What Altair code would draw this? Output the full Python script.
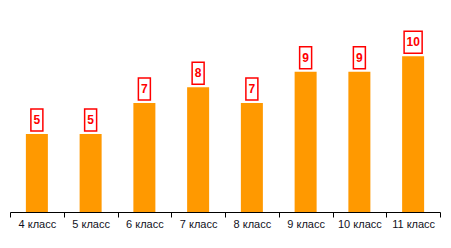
import altair as alt
import pandas as pd

categories = ["4 класс", "5 класс", "6 класс", "7 класс", "8 класс", "9 класс", "10 класс", "11 класс"]
values = [5, 5, 7, 8, 7, 9, 9, 10]
labels = [str(v) for v in values]

df = pd.DataFrame({"cat": categories, "val": values, "lab": labels})
df["box"] = df["lab"].apply(lambda s: "M-0.545,-1L0.545,-1L0.545,1L-0.545,1Z" if len(s) == 1 else "M-0.82,-1L0.82,-1L0.82,1L-0.82,1Z")

x = alt.X("cat:N", sort=categories, title=None,
          scale=alt.Scale(paddingInner=0, paddingOuter=0),
          axis=alt.Axis(labelAngle=0, tickBand="extent", domainColor="#000000", tickColor="#000000",
                        tickSize=5, labelPadding=1, labelFont="Liberation Sans", labelFontSize=11,
                        labelColor="#111122", domainWidth=1, tickWidth=1))
y = alt.Y("val:Q", scale=alt.Scale(domain=[0, 12], nice=False), axis=None)

base = alt.Chart(df)
bars = base.mark_bar(color="#FF9900", width=22).encode(x=x, y=y)
boxes = base.mark_point(filled=False, fill="#FFFFFF", fillOpacity=1, stroke="#FF0000", strokeWidth=1.5,
                        size=484, opacity=1, yOffset=-14).encode(
    x=x, y=y, shape=alt.Shape("box:N", scale=None, legend=None))
texts = base.mark_text(color="#FF0000", font="Liberation Sans", fontSize=12, fontWeight="bold",
                       baseline="middle", align="center", yOffset=-14).encode(x=x, y=y, text="lab:N")

chart = (bars + boxes + texts).properties(
    width=430, height=187,
    padding={"left": 10, "top": 25, "right": 11, "bottom": 36},
    autosize=alt.AutoSizeParams(type="none"),
    background="#FFFFFF",
).configure_view(stroke=None)

chart.save("out.html", embed_options={"renderer": "svg", "actions": False})
